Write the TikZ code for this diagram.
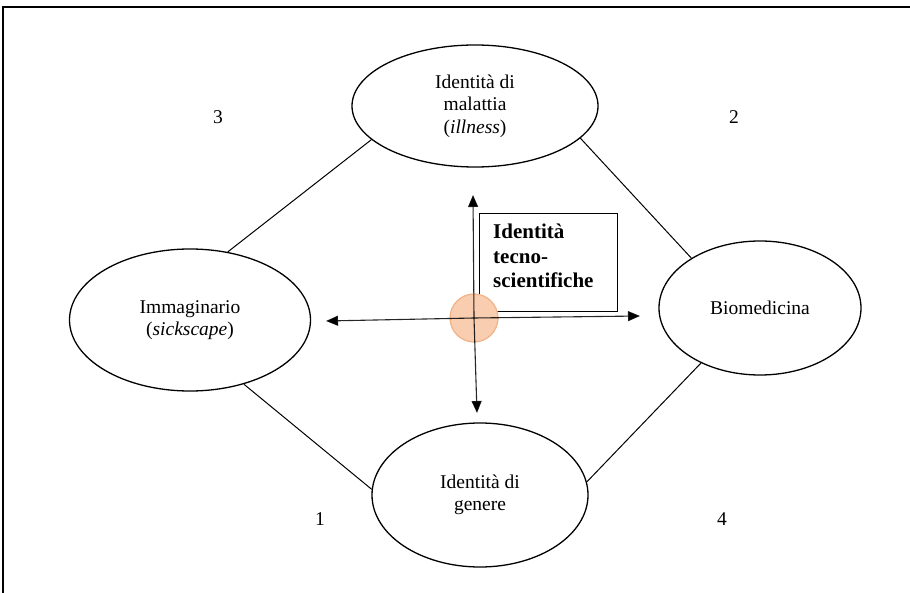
\documentclass[tikz,border=0pt]{standalone}
\usepackage{fontspec}
\setmainfont{Liberation Serif}
\usetikzlibrary{shapes.geometric,arrows.meta}
\tikzset{
  bubble/.style={draw, line width=1.3pt, ellipse, inner sep=0pt, align=center,
    font=\fontsize{19.5pt}{22.5pt}\selectfont},
  num/.style={font=\fontsize{19.5pt}{22pt}\selectfont, inner sep=0pt},
  link/.style={line width=1pt},
  axis/.style={line width=1.1pt, -{Triangle[width=10pt,length=12pt]}},
  tbox/.style={draw, line width=1.2pt, inner sep=0pt, minimum width=138pt, minimum height=98pt,
    anchor=north west},
}
\begin{document}
\begin{tikzpicture}[x=1pt,y=-1pt]
\useasboundingbox (0,0) rectangle (910,593);
% frame (top and left only)
\draw[line width=1.5pt] (910,7) -- (3,7) -- (3,593);

% ellipses
\node[bubble, minimum width=246pt, minimum height=122pt] (T) at (475,106)
  {Identità di\\malattia\\(\textit{illness})};
\node[bubble, minimum width=241pt, minimum height=142pt] (L) at (190,320)
  {Immaginario\\(\textit{sickscape})};
\node[bubble, minimum width=202pt, minimum height=134pt] (R) at (760,308)
  {Biomedicina};
\node[bubble, minimum width=216pt, minimum height=144pt] (B) at (480,495)
  {Identità di\\genere};

% links
\draw[link] (L.61) -- (T.198);
\draw[link] (T.-17) -- (R.144);
\draw[link] (L.-50) -- (B.177);
\draw[link] (R.223) -- (B.7);

% numbers
\node[num] (n3) at (218,117) {3};
\node[num] (n2) at (734,117) {2};
\node[num] (n1) at (320,519) {1};
\node[num] (n4) at (722,519) {4};

% box
\node[tbox] (box) at (479,213) {};
\node[anchor=north west, align=left, inner sep=0pt,
  font=\fontsize{21pt}{24.5pt}\selectfont\bfseries] (boxtext) at (493,224)
  {Identità\\tecno-\\scientifiche};

% centre and axes
\coordinate (C) at (474,318);
\fill[fill={rgb,255:red,248;green,205;blue,176}, draw={rgb,255:red,242;green,178;blue,135}, line width=1.2pt]
  (C) circle (24pt);
\coordinate (aL) at (326,321);
\coordinate (aR) at (640,316);
\coordinate (aT) at (473,195);
\coordinate (aB) at (477,413);
\draw[axis, draw opacity=0.85] (C) -- (aL);
\draw[axis, draw opacity=0.85] (C) -- (aR);
\draw[axis, draw opacity=0.85] (C) -- (aT);
\draw[axis, draw opacity=0.85] (C) -- (aB);
\end{tikzpicture}
\end{document}
